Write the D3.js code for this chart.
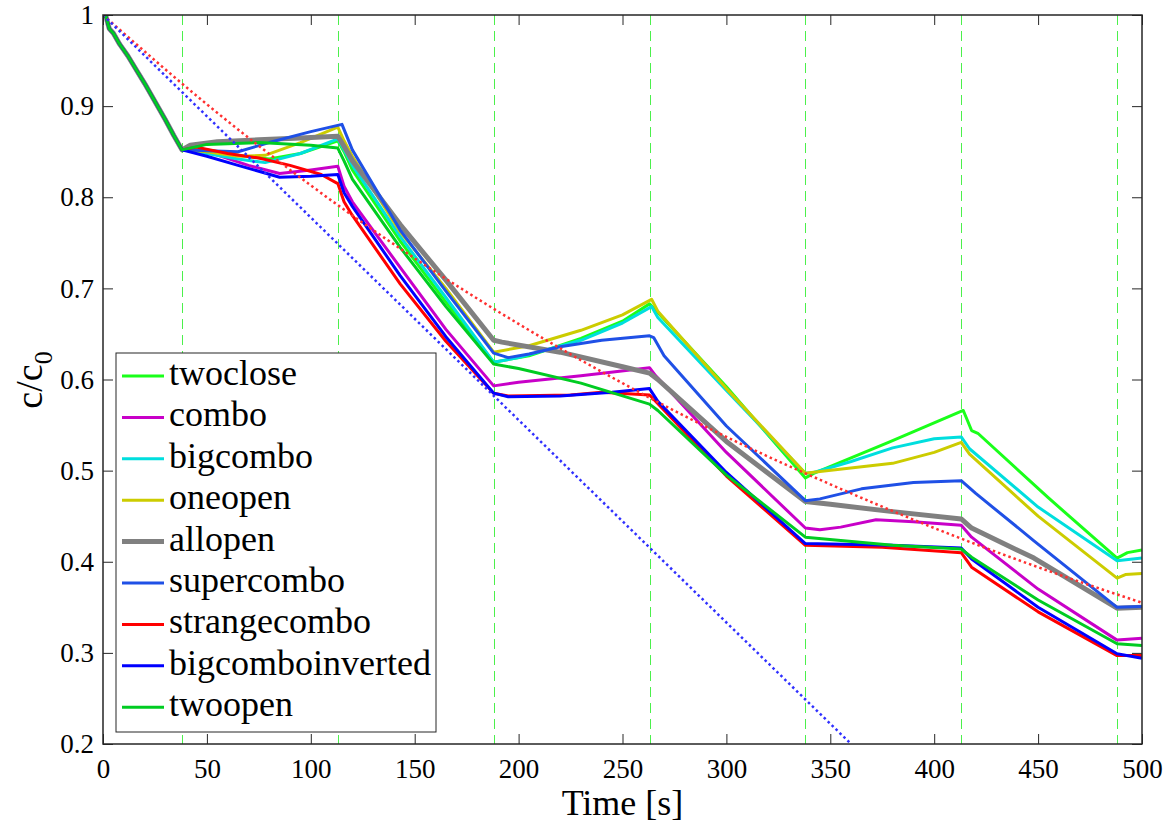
<!DOCTYPE html>
<html>
<head>
<meta charset="utf-8">
<script src="https://cdn.jsdelivr.net/npm/d3@7"></script>
<style>
  body { margin: 0; background: #fff; }
  svg text { font-family: "Liberation Serif", "Times New Roman", Tinos, "Noto Serif", "DejaVu Serif", "Noto Serif CJK SC", Times, serif; fill: #000; }
</style>
</head>
<body>
<div id="my_dataviz"></div>
<script>
var width = 1172;
var height = 828;

// common first drop, shared by all runs
var startSeg = [[0,1.0],[1.5,0.998],[3,0.985],[5,0.98],[8,0.968],[12,0.955],[16,0.94],[20,0.925],[25,0.905],[30,0.885],[34,0.868]];

var twoclose = [[38,0.852],[50,0.852],[65,0.846],[80,0.842],[95,0.848],[113,0.862],[116,0.85],[120,0.83],[143,0.752],[165,0.685],[188,0.619],[205,0.626],[230,0.645],[250,0.664],[263,0.683],[266,0.676],[300,0.592],[338,0.492],[342,0.497],[378,0.531],[414,0.566],[418,0.544],[421,0.541],[455,0.47],[488,0.404],[493,0.41],[500,0.413]];
var combo = [[38,0.852],[50,0.85],[70,0.835],[85,0.826],[100,0.83],[113,0.834],[116,0.812],[120,0.795],[143,0.723],[165,0.655],[188,0.593],[200,0.597],[230,0.604],[263,0.613],[266,0.604],[300,0.52],[338,0.437],[345,0.435],[355,0.438],[372,0.446],[390,0.444],[413,0.44],[418,0.427],[450,0.37],[488,0.314],[500,0.316]];
var bigcombo = [[38,0.852],[50,0.848],[65,0.842],[78,0.838],[95,0.848],[113,0.864],[116,0.852],[120,0.835],[143,0.757],[165,0.69],[188,0.619],[200,0.624],[230,0.643],[250,0.662],[264,0.68],[267,0.668],[300,0.588],[338,0.497],[342,0.498],[360,0.51],[380,0.525],[400,0.535],[413,0.537],[417,0.524],[450,0.46],[488,0.401],[500,0.404]];
var oneopen = [[38,0.852],[50,0.85],[65,0.845],[78,0.846],[95,0.86],[113,0.877],[116,0.862],[120,0.845],[143,0.762],[165,0.70],[188,0.63],[205,0.637],[230,0.654],[250,0.671],[264,0.688],[267,0.675],[300,0.59],[338,0.497],[345,0.499],[380,0.508],[400,0.52],[413,0.531],[417,0.518],[450,0.45],[488,0.382],[492,0.386],[500,0.387]];
var allopen = [[38,0.852],[42,0.857],[55,0.861],[75,0.863],[95,0.865],[113,0.867],[116,0.856],[120,0.84],[143,0.77],[165,0.709],[188,0.643],[192,0.641],[220,0.63],[250,0.614],[263,0.607],[267,0.6],[300,0.532],[338,0.466],[350,0.463],[380,0.455],[413,0.447],[418,0.437],[448,0.404],[488,0.349],[500,0.35]];
var supercombo = [[38,0.852],[50,0.851],[65,0.85],[80,0.86],[100,0.872],[115,0.88],[120,0.852],[143,0.764],[165,0.697],[188,0.629],[195,0.624],[205,0.628],[220,0.636],[240,0.643],[263,0.648],[265,0.646],[270,0.626],[300,0.549],[338,0.467],[345,0.469],[365,0.48],[390,0.487],[413,0.489],[420,0.475],[448,0.423],[488,0.35],[500,0.351]];
var strangecombo = [[38,0.852],[45,0.855],[60,0.848],[75,0.843],[90,0.835],[105,0.825],[113,0.815],[116,0.795],[120,0.78],[143,0.705],[165,0.642],[188,0.585],[195,0.582],[225,0.583],[240,0.586],[263,0.583],[266,0.576],[300,0.494],[338,0.418],[375,0.416],[413,0.41],[418,0.394],[450,0.345],[488,0.297],[500,0.297]];
var bigcomboinverted = [[38,0.852],[50,0.845],[65,0.835],[85,0.822],[100,0.823],[113,0.825],[116,0.805],[120,0.79],[143,0.714],[165,0.647],[188,0.585],[195,0.581],[220,0.582],[245,0.586],[263,0.59],[267,0.576],[300,0.498],[338,0.42],[380,0.418],[413,0.415],[418,0.403],[450,0.35],[488,0.299],[500,0.294]];
var twoopen = [[38,0.852],[50,0.858],[75,0.86],[100,0.857],[113,0.854],[116,0.84],[120,0.82],[143,0.745],[165,0.68],[188,0.617],[200,0.612],[230,0.596],[263,0.573],[267,0.566],[300,0.495],[338,0.427],[380,0.418],[413,0.414],[418,0.405],[450,0.358],[488,0.31],[500,0.308]];

// dotted reference curves
var redFit = [[0,1],[50,0.902],[100,0.813],[150,0.733],[200,0.661],[250,0.596],[300,0.537],[350,0.485],[400,0.437],[450,0.394],[500,0.355]];
var blueFit = [[0,1],[360,0.2]];

// switching times (dashed green lines)
var switchTimes = [38, 113, 188, 263, 338, 413, 488];

var xTicks = [0,50,100,150,200,250,300,350,400,450,500];
var yTicks = [0.2,0.3,0.4,0.5,0.6,0.7,0.8,0.9,1];

var series = [
  {name: "twoclose", data: twoclose, color: "#1aff1a", w: 3},
  {name: "combo", data: combo, color: "#c800c8", w: 3},
  {name: "bigcombo", data: bigcombo, color: "#00dede", w: 3},
  {name: "oneopen", data: oneopen, color: "#cccc00", w: 3},
  {name: "allopen", data: allopen, color: "#808080", w: 5},
  {name: "supercombo", data: supercombo, color: "#1f50e6", w: 3},
  {name: "strangecombo", data: strangecombo, color: "#ff0000", w: 3},
  {name: "bigcomboinverted", data: bigcomboinverted, color: "#0000ff", w: 3},
  {name: "twoopen", data: twoopen, color: "#00cc22", w: 3}
];

var x = d3.scaleLinear().domain([0, 500]).range([103, 1142]);
var y = d3.scaleLinear().domain([0.2, 1]).range([744, 15]);

var svg = d3.select("#my_dataviz")
  .append("svg")
    .attr("width", width)
    .attr("height", height);

var defs = svg.append("defs");
defs.append("clipPath").attr("id", "plotclip")
  .append("rect")
    .attr("x", x(0)).attr("y", y(1))
    .attr("width", x(500) - x(0)).attr("height", y(0.2) - y(1));

var plot = svg.append("g").attr("clip-path", "url(#plotclip)");

// dashed switch lines, snapped to pixel so they stay crisp green
plot.selectAll(".switch")
  .data(switchTimes)
  .enter()
  .append("line")
    .attr("class", "switch")
    .attr("x1", d => Math.round(x(d)) + 0.5).attr("x2", d => Math.round(x(d)) + 0.5)
    .attr("y1", y(1)).attr("y2", y(0.2))
    .attr("stroke", "#4cf04c")
    .attr("stroke-width", 1)
    .attr("stroke-dasharray", "10,6");

var line = d3.line()
  .x(d => x(d[0]))
  .y(d => y(d[1]));

plot.selectAll(".run")
  .data(series)
  .enter()
  .append("path")
    .attr("class", "run")
    .attr("d", d => line(startSeg.concat(d.data)))
    .attr("fill", "none")
    .attr("stroke", d => d.color)
    .attr("stroke-width", d => d.w)
    .attr("stroke-linejoin", "round");

plot.append("path")
  .attr("d", line.curve(d3.curveMonotoneX)(redFit))
  .attr("fill", "none")
  .attr("stroke", "#ff3030")
  .attr("stroke-width", 2.5)
  .attr("stroke-dasharray", "2.5,3");

plot.append("path")
  .attr("d", line.curve(d3.curveLinear)(blueFit))
  .attr("fill", "none")
  .attr("stroke", "#3030ff")
  .attr("stroke-width", 2.5)
  .attr("stroke-dasharray", "2.5,3");

// axes, MATLAB style box with inward ticks
var axisColor = "#262626";

svg.append("g")
  .attr("transform", "translate(0," + y(0.2) + ")")
  .call(d3.axisBottom(x).tickValues(xTicks).tickSize(-10).tickSizeOuter(0).tickPadding(15).tickFormat(d3.format("d")));
svg.append("g")
  .attr("transform", "translate(" + x(0) + ",0)")
  .call(d3.axisLeft(y).tickValues(yTicks).tickSize(-10).tickSizeOuter(0).tickPadding(9).tickFormat(d => d === 1 ? "1" : d3.format(".1f")(d)));
svg.append("g")
  .attr("transform", "translate(0," + y(1) + ")")
  .call(d3.axisTop(x).tickValues(xTicks).tickSize(-10).tickSizeOuter(0).tickFormat(""));
svg.append("g")
  .attr("transform", "translate(" + x(500) + ",0)")
  .call(d3.axisRight(y).tickValues(yTicks).tickSize(-10).tickSizeOuter(0).tickFormat(""));

svg.selectAll(".domain").remove();
svg.selectAll("g").attr("font-family", null);
svg.selectAll(".tick line").attr("stroke", axisColor).attr("stroke-width", 1);
svg.selectAll(".tick text")
  .style("font-size", "27px")
  .attr("fill", "#000");

svg.append("rect")
  .attr("x", x(0)).attr("y", y(1))
  .attr("width", x(500) - x(0)).attr("height", y(0.2) - y(1))
  .attr("fill", "none")
  .attr("stroke", axisColor)
  .attr("stroke-width", 1.5);

// axis labels
svg.append("text")
  .attr("x", (x(0) + x(500)) / 2)
  .attr("y", 815)
  .attr("text-anchor", "middle")
  .style("font-size", "36px")
  .text("Time [s]");

var ylab = svg.append("text")
  .attr("transform", "translate(42,380) rotate(-90)")
  .attr("text-anchor", "middle")
  .style("font-size", "38px");
ylab.append("tspan").text("c/c");
ylab.append("tspan").attr("dy", 10).style("font-size", "26px").text("0");

// legend
var legend = svg.append("g");
legend.append("rect")
  .attr("x", 116).attr("y", 353)
  .attr("width", 320).attr("height", 379)
  .attr("fill", "#fff")
  .attr("stroke", axisColor)
  .attr("stroke-width", 1);

var legendItem = legend.selectAll(".legend-item")
  .data(series)
  .enter()
  .append("g")
    .attr("class", "legend-item")
    .attr("transform", (d, i) => "translate(0," + (376 + i * 41.4) + ")");
legendItem.append("line")
  .attr("x1", 122).attr("x2", 164)
  .attr("stroke", d => d.color)
  .attr("stroke-width", d => d.w);
legendItem.append("text")
  .attr("x", 169)
  .attr("y", 9)
  .style("font-size", "36px")
  .text(d => d.name);
</script>
</body>
</html>
